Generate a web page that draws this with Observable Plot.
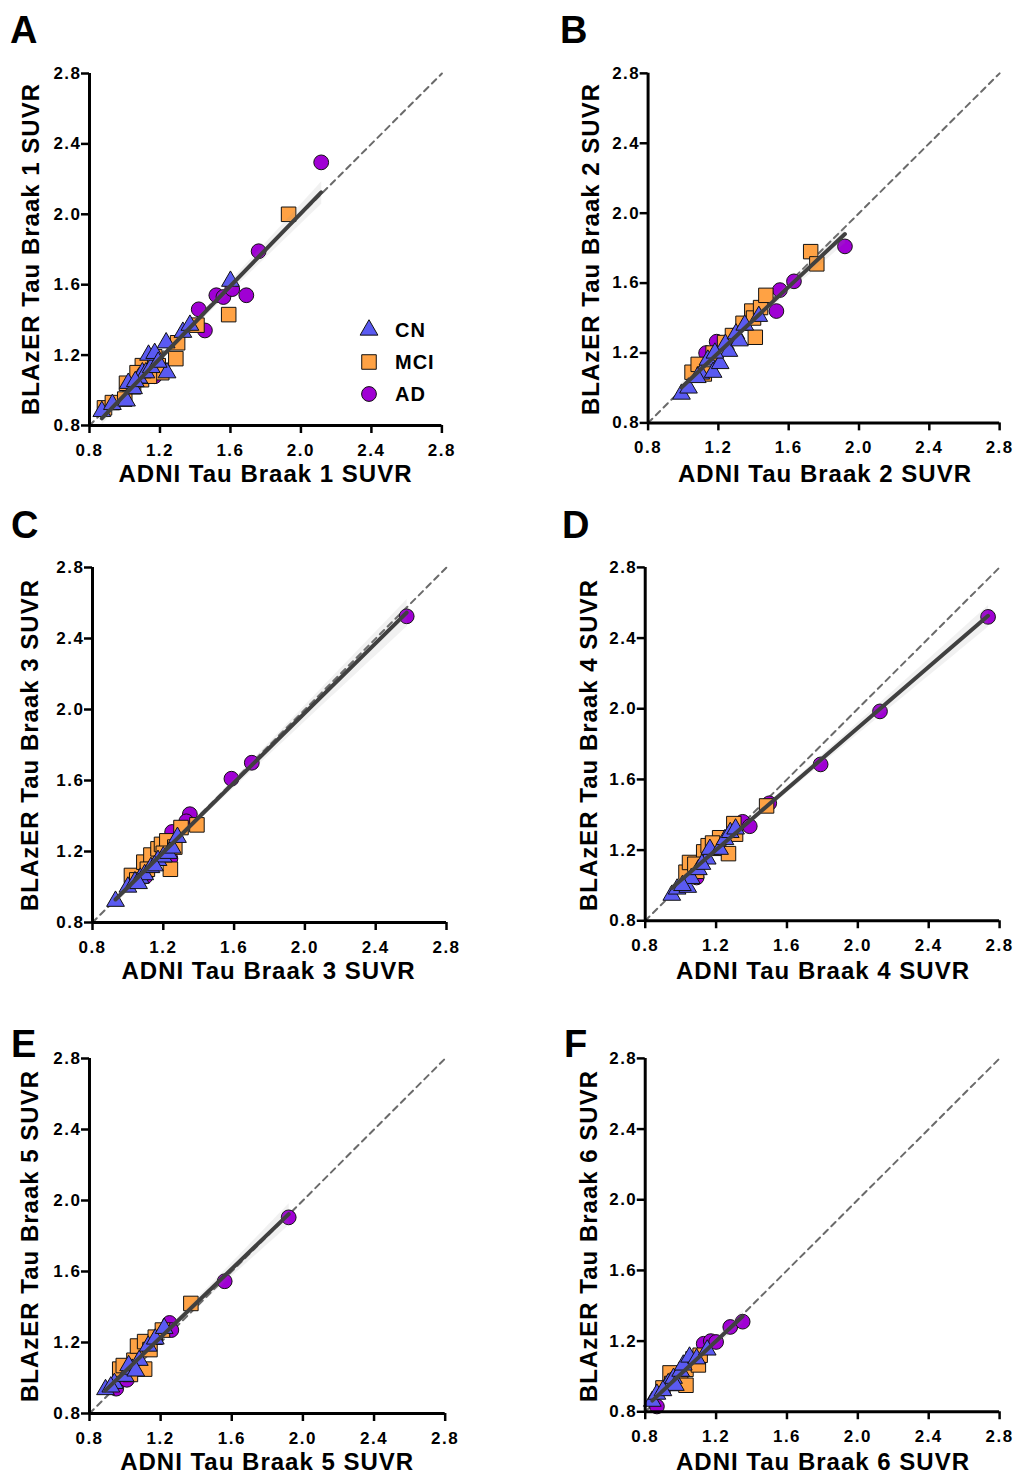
<!DOCTYPE html>
<html><head><meta charset="utf-8">
<script src="https://cdn.jsdelivr.net/npm/d3@7"></script>
<script src="https://cdn.jsdelivr.net/npm/@observablehq/plot@0.6"></script>
<style>
body{margin:0;background:#fff;font-family:"Liberation Sans",Arial,sans-serif;color:#000}
#page{position:relative;width:1019px;height:1476px;overflow:hidden;background:#fff}
.p{position:absolute}
.p svg{overflow:visible}
.letter{position:absolute;font-weight:bold;font-size:38px;line-height:1}
.xl,.yl{position:absolute;font-weight:bold;font-size:24px;letter-spacing:1px;white-space:nowrap;line-height:1}
.xl{transform:translate(-50%,-50%)}
.yl{transform:translate(-50%,-50%) rotate(-90deg)}
.leg{position:absolute;font-weight:bold;font-size:20px;letter-spacing:1px;line-height:1}
</style>
</head><body><div id="page"></div>
<script>
// ---- data ----
const groups = ["CN", "MCI", "AD"];
const tickValues = [0.8, 1.2, 1.6, 2.0, 2.4, 2.8];
const identity = [0.8, 2.8];

const cnA = [[0.87,0.88],[0.93,0.92],[1.01,0.94],[1.02,1.04],[1.05,1.01],[1.08,1.07],[1.10,1.10],[1.12,1.10],[1.15,1.13],[1.135,1.20],[1.17,1.21],[1.235,1.27],[1.24,1.10],[1.33,1.33],[1.37,1.37],[1.60,1.62],[1.06,1.05],[1.19,1.16]];
const mciA = [[0.885,0.90],[0.93,0.93],[1.00,0.95],[1.01,1.04],[1.05,1.02],[1.095,1.06],[1.10,1.14],[1.19,1.14],[1.17,1.19],[1.21,1.10],[1.29,1.18],[1.30,1.27],[1.41,1.37],[1.59,1.43],[1.93,2.00],[1.14,1.08],[1.07,1.10]];
const adA = [[1.17,1.08],[1.42,1.46],[1.455,1.34],[1.52,1.54],[1.56,1.53],[1.61,1.575],[1.69,1.54],[1.76,1.79],[2.115,2.295]];

const cnB = [[0.99,0.965],[1.03,1.00],[1.10,1.08],[1.14,1.16],[1.17,1.09],[1.21,1.14],[1.24,1.25],[1.26,1.21],[1.30,1.31],[1.32,1.27],[1.35,1.36],[1.43,1.41],[1.08,1.06],[1.18,1.20]];
const mciB = [[1.05,1.09],[1.085,1.135],[1.12,1.08],[1.17,1.20],[1.235,1.26],[1.34,1.37],[1.39,1.44],[1.40,1.40],[1.41,1.29],[1.44,1.46],[1.47,1.53],[1.725,1.78],[1.76,1.71],[1.28,1.30]];
const adB = [[1.13,1.20],[1.19,1.265],[1.29,1.30],[1.53,1.44],[1.55,1.56],[1.63,1.61],[1.92,1.81]];

const cnC = [[0.93,0.92],[1.00,1.00],[1.04,1.03],[1.07,1.05],[1.095,1.07],[1.13,1.11],[1.17,1.15],[1.20,1.17],[1.23,1.19],[1.25,1.22],[1.28,1.28],[1.06,1.02],[1.15,1.12]];
const mciC = [[1.02,1.065],[1.05,1.04],[1.09,1.14],[1.13,1.18],[1.17,1.215],[1.19,1.24],[1.22,1.26],[1.24,1.10],[1.265,1.225],[1.30,1.335],[1.39,1.35],[1.11,1.10],[1.20,1.19]];
const adC = [[1.24,1.16],[1.25,1.31],[1.35,1.41],[1.33,1.37],[1.585,1.61],[1.70,1.70],[2.575,2.525],[1.10,1.06]];

const cnD = [[0.95,0.945],[0.98,0.98],[1.04,0.99],[1.06,1.04],[1.10,1.09],[1.15,1.15],[1.165,1.205],[1.22,1.205],[1.25,1.26],[1.28,1.30],[1.31,1.32],[1.01,1.00],[1.12,1.12]];
const mciD = [[1.03,1.075],[1.05,1.13],[1.09,1.08],[1.13,1.19],[1.155,1.225],[1.21,1.21],[1.22,1.27],[1.27,1.18],[1.30,1.35],[1.31,1.29],[1.485,1.45],[1.08,1.12],[1.18,1.24]];
const adD = [[1.09,1.045],[1.35,1.36],[1.39,1.335],[1.50,1.465],[1.79,1.685],[2.125,1.985],[2.735,2.52]];

const cnE = [[0.89,0.935],[0.94,0.97],[1.00,1.01],[1.04,1.05],[1.08,1.10],[1.13,1.18],[1.17,1.22],[1.22,1.28],[1.02,1.07],[0.92,0.95],[1.06,1.04]];
const mciE = [[0.97,1.05],[0.99,1.07],[1.05,1.10],[1.07,1.18],[1.11,1.205],[1.11,1.05],[1.14,1.16],[1.17,1.23],[1.21,1.27],[1.37,1.42],[1.03,1.02]];
const adE = [[0.95,0.94],[1.25,1.31],[1.26,1.27],[1.56,1.545],[1.92,1.905],[1.01,0.99]];

const cnF = [[0.84,0.86],[0.866,0.90],[0.93,0.96],[0.96,0.99],[0.97,0.95],[1.00,1.03],[1.015,1.065],[1.05,1.11],[1.09,1.10],[1.15,1.15],[0.90,0.92]];
const mciF = [[0.90,0.935],[0.94,1.02],[0.98,0.98],[1.00,0.97],[1.03,1.04],[1.03,0.95],[1.07,1.10],[1.10,1.065],[1.11,1.12],[0.95,0.96]];
const adF = [[0.866,0.83],[1.13,1.185],[1.17,1.20],[1.20,1.195],[1.28,1.28],[1.35,1.31]];

const panelLetters = ["A","B","C","D","E","F"];
const braak = [1,2,3,4,5,6];
const cnData = [cnA,cnB,cnC,cnD,cnE,cnF];
const mciData = [mciA,mciB,mciC,mciD,mciE,mciF];
const adData = [adA,adB,adC,adD,adE,adF];

// ---- styling / layout ----
const colors = {CN:"#5a5af2", MCI:"#ffa244", AD:"#a000d4"};
const symbols = {CN:"triangle", MCI:"square", AD:"circle"};
const radii = {CN:6.6, MCI:8.2, AD:7.4};
const layout = [
  {left:89.3, right:441.7, top:73, bottom:425, lx:10, ly:16, yx:31},
  {left:648, right:1002, top:73, bottom:425, lx:560, ly:16, yx:591},
  {left:91.5, right:445.5, top:567, bottom:922, lx:11, ly:511, yx:30},
  {left:645, right:1001, top:567, bottom:922, lx:562, ly:511, yx:589},
  {left:89.3, right:445, top:1058, bottom:1413, lx:11, ly:1030, yx:30},
  {left:645, right:1001, top:1058, bottom:1413, lx:564, ly:1030, yx:589}
];
const page = document.getElementById("page");
const mL=60, mR=20, mT=20, mB=40;
const fx = d => d[0], fy = d => d[1];

layout.forEach((L, i) => {
  const w = L.right - L.left, h = L.bottom - L.top;
  const all = [...adData[i], ...mciData[i], ...cnData[i]];
  const plot = Plot.plot({
    width: w + mL + mR, height: h + mT + mB,
    marginLeft: mL, marginRight: mR, marginTop: mT, marginBottom: mB,
    x: {domain: identity},
    y: {domain: identity},
    style: {fontFamily: "Liberation Sans, Arial, sans-serif", fontSize: "17px", fontWeight: "bold", color: "#000", background: "transparent", overflow: "visible"},
    marks: [
      Plot.line(identity, {x: d => d, y: d => d, stroke: "#6a6a6a", strokeWidth: 2, strokeDasharray: "6,5"}),
      Plot.dot(adData[i], {x: fx, y: fy, symbol: symbols.AD, r: radii.AD, fill: colors.AD, stroke: "#111", strokeWidth: 1}),
      Plot.dot(mciData[i], {x: fx, y: fy, symbol: symbols.MCI, r: radii.MCI, fill: colors.MCI, stroke: "#111", strokeWidth: 1}),
      Plot.dot(cnData[i], {x: fx, y: fy, symbol: symbols.CN, r: radii.CN, fill: colors.CN, stroke: "#111", strokeWidth: 1}),
      Plot.linearRegressionY(all, {x: fx, y: fy, stroke: "#404040", strokeWidth: 4, fill: "#888", fillOpacity: 0.12, ci: 0.95}),
      Plot.axisX({ticks: tickValues, tickFormat: d => d.toFixed(1), tickSize: 8, tickPadding: 10, strokeWidth: 2.5, fontSize: 17, label: null}),
      Plot.axisY({ticks: tickValues, tickFormat: d => d.toFixed(1), tickSize: 8, tickPadding: 0, strokeWidth: 2.5, fontSize: 17, label: null}),
      Plot.ruleX([identity[0]], {strokeWidth: 3}),
      Plot.ruleY([identity[0]], {strokeWidth: 3})
    ]
  });
  d3.select(plot).selectAll("text")
    .style("font-family", "'Liberation Sans', Arial, sans-serif")
    .style("font-size", "17px")
    .style("font-weight", "bold")
    .style("letter-spacing", "1.5px")
    .style("fill", "#000");
  const holder = document.createElement("div");
  holder.className = "p";
  holder.style.left = (L.left - mL) + "px";
  holder.style.top = (L.top - mT) + "px";
  holder.appendChild(plot);
  page.appendChild(holder);

  const letter = document.createElement("div");
  letter.className = "letter";
  letter.textContent = panelLetters[i];
  letter.style.left = L.lx + "px";
  letter.style.top = (L.ly - 5) + "px";
  page.appendChild(letter);

  const xl = document.createElement("div");
  xl.className = "xl";
  xl.textContent = `ADNI Tau Braak ${braak[i]} SUVR`;
  xl.style.left = ((L.left + L.right) / 2) + "px";
  xl.style.top = (L.bottom + 49) + "px";
  page.appendChild(xl);

  const yl = document.createElement("div");
  yl.className = "yl";
  yl.textContent = `BLAzER Tau Braak ${braak[i]} SUVR`;
  yl.style.left = L.yx + "px";
  yl.style.top = ((L.top + L.bottom) / 2) + "px";
  page.appendChild(yl);
});

// legend (panel A)
const legY = [330, 362, 394];
const symGen = {CN: d3.symbolTriangle, MCI: d3.symbolSquare, AD: d3.symbolCircle};
groups.forEach((g, k) => {
  const s = document.createElementNS("http://www.w3.org/2000/svg", "svg");
  s.setAttribute("width", 24); s.setAttribute("height", 24);
  s.style.position = "absolute";
  s.style.left = (369 - 12) + "px";
  s.style.top = (legY[k] - 12) + "px";
  s.style.overflow = "visible";
  const p = document.createElementNS("http://www.w3.org/2000/svg", "path");
  p.setAttribute("d", d3.symbol(symGen[g], Math.PI * radii[g] * radii[g])());
  p.setAttribute("transform", "translate(12,12)");
  p.setAttribute("fill", colors[g]);
  p.setAttribute("stroke", "#111");
  p.setAttribute("stroke-width", 1);
  s.appendChild(p);
  page.appendChild(s);
  const t = document.createElement("div");
  t.className = "leg";
  t.textContent = g;
  t.style.left = "395px";
  t.style.top = (legY[k] - 10) + "px";
  page.appendChild(t);
});
</script></body></html>
